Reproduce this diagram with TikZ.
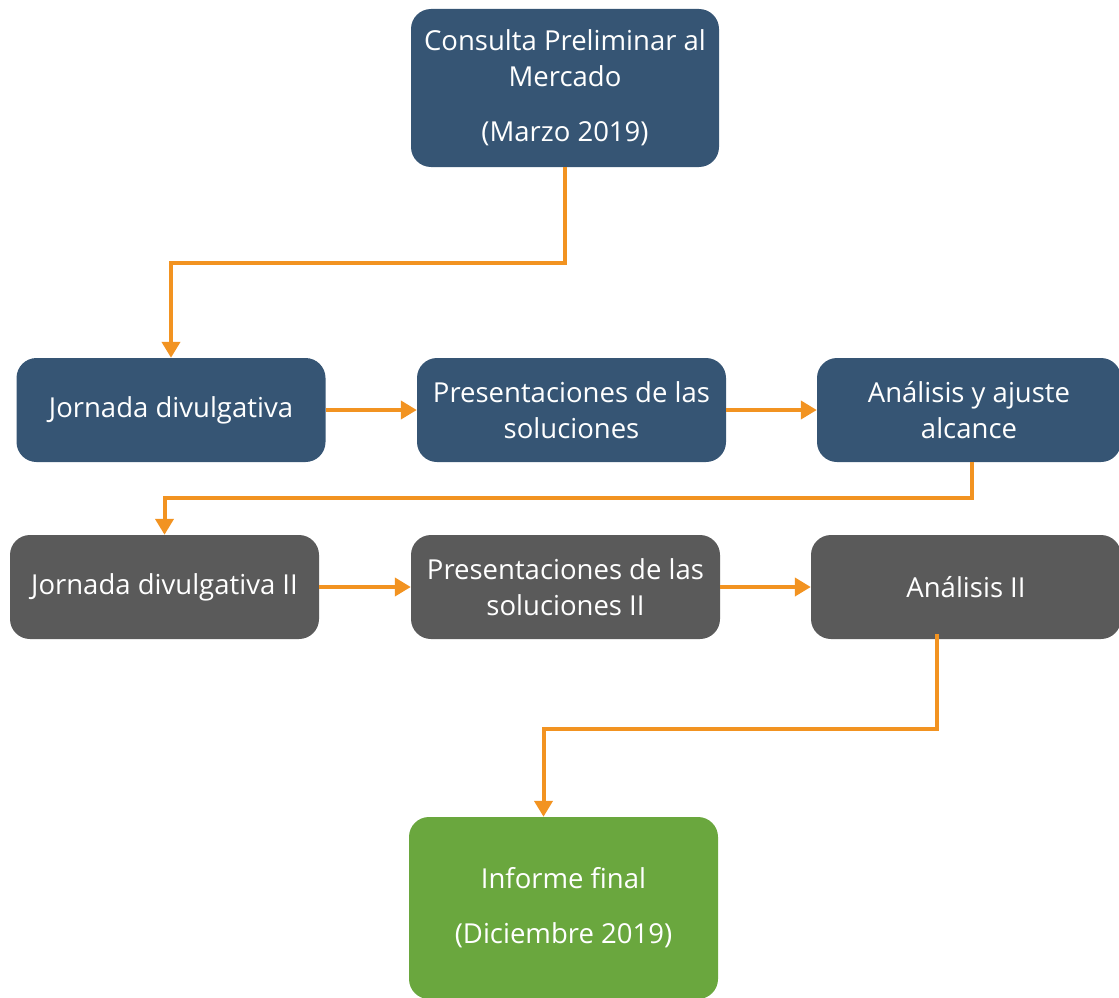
\documentclass[tikz,border=0pt]{standalone}
\usepackage{fontspec}
\setmainfont{Open Sans}
\usetikzlibrary{arrows.meta,calc}
\definecolor{boxblue}{HTML}{365574}
\definecolor{boxgray}{HTML}{5A5A5A}
\definecolor{boxgreen}{HTML}{6AA73E}
\definecolor{arrorange}{HTML}{F29321}
\begin{document}
\begin{tikzpicture}[x=1pt,y=-1pt,
  box/.style={rounded corners=20pt, minimum width=309pt, minimum height=104pt,
    text=white, align=center, inner sep=0pt,
    font=\fontsize{27.5}{36}\selectfont},
  bluebox/.style={box, fill=boxblue},
  graybox/.style={box, fill=boxgray},
  greenbox/.style={box, fill=boxgreen},
  arr/.style={draw=arrorange, line width=4pt,
    -{Triangle[length=16pt,width=18pt]}},
  link/.style={draw=arrorange, line width=4pt}]
\useasboundingbox (0,0) rectangle (1119,998);
\node[bluebox, minimum width=308pt, minimum height=158pt] (cpm) at (565,88)
  {Consulta Preliminar al\\Mercado\\[19pt](Marzo 2019)};
\node[bluebox] (jd) at (171,410) {Jornada divulgativa};
\node[bluebox] (ps) at (571.5,410) {Presentaciones de las\\soluciones};
\node[bluebox, minimum width=304pt] (aa) at (969,410) {Análisis y ajuste\\alcance};
\node[graybox] (jd2) at (164.5,587) {Jornada divulgativa II};
\node[graybox] (ps2) at (565.5,587) {Presentaciones de las\\soluciones II};
\node[graybox, minimum width=310pt] (a2) at (966,587) {Análisis II};
\node[greenbox, minimum width=309pt, minimum height=182pt] (fin) at (563.5,908)
  {Informe final\\[19pt](Diciembre 2019)};
\draw[arr] (cpm.south) -- ++(0,96) -| (jd.north);
\draw[arr] (jd.east) -- (ps.west);
\draw[arr] (ps.east) -- (aa.west);
\draw[arr] ([xshift=3pt]aa.south) -- ++(0,36) -| (jd2.north);
\draw[arr] (jd2.east) -- (ps2.west);
\draw[arr] (ps2.east) -- (a2.west);
\draw[arr] ([xshift=-29pt,yshift=5pt]a2.south) -- ++(0,95) -| ([xshift=-20pt]fin.north);
\end{tikzpicture}
\end{document}
